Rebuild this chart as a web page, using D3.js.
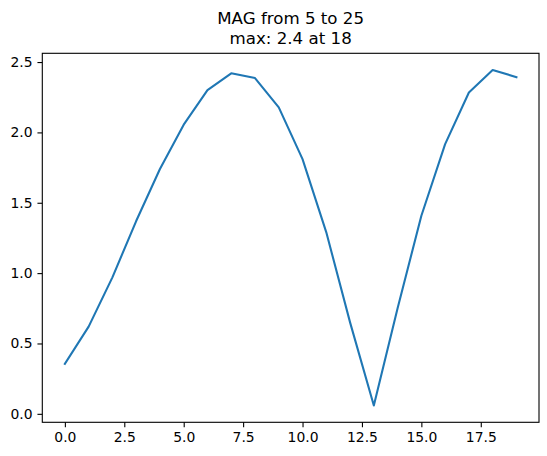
<!DOCTYPE html>
<html lang="en">

<head>
    <meta charset="UTF-8">
    <title>MAG from 5 to 25</title>
    <script src="https://d3js.org/d3.v7.min.js"></script>
    <style>
        body { margin: 0; background: #fff; }
        text { font-family: "DejaVu Sans", sans-serif; fill: #000; }
    </style>
</head>

<body>
    <div id="chart"></div>
    <script>
        // values, one per index
        var xValues = [0, 1, 2, 3, 4, 5, 6, 7, 8, 9, 10, 11, 12, 13, 14, 15, 16, 17, 18, 19];
        var magValues = [0.355, 0.62, 0.97, 1.37, 1.74, 2.055, 2.30, 2.42, 2.386, 2.178,
            1.81, 1.29, 0.65, 0.059, 0.75, 1.408, 1.917, 2.284, 2.443, 2.393];
        var xTicks = [0, 2.5, 5, 7.5, 10, 12.5, 15, 17.5];
        var yTicks = [0, 0.5, 1, 1.5, 2, 2.5];
        var titleLines = ["MAG from 5 to 25", "max: 2.4 at 18"];

        var width = 547,
            height = 456,
            margin = { left: 42.3, right: 8, top: 53.3, bottom: 33.7 };

        var svg = d3.select("#chart").append("svg")
            .attr("width", width)
            .attr("height", height);

        // matplotlib style 5% margins
        var xMin = d3.min(xValues), xMax = d3.max(xValues);
        var yMin = d3.min(magValues), yMax = d3.max(magValues);
        var xPad = (xMax - xMin) * 0.05, yPad = (yMax - yMin) * 0.05;

        var x = d3.scaleLinear()
            .domain([xMin - xPad, xMax + xPad])
            .range([margin.left, width - margin.right]);

        var y = d3.scaleLinear()
            .domain([yMin - yPad, yMax + yPad])
            .range([height - margin.bottom, margin.top]);

        var tickLen = 4.86;

        var xAxis = svg.append("g")
            .attr("transform", "translate(0," + (height - margin.bottom) + ")")
            .call(d3.axisBottom(x).tickValues(xTicks).tickFormat(d3.format(".1f"))
                .tickSize(tickLen).tickPadding(4.86).tickSizeOuter(0));

        var yAxis = svg.append("g")
            .attr("transform", "translate(" + margin.left + ",0)")
            .call(d3.axisLeft(y).tickValues(yTicks).tickFormat(d3.format(".1f"))
                .tickSize(tickLen).tickPadding(4.86).tickSizeOuter(0));

        svg.selectAll(".tick line").attr("stroke", "#000").attr("stroke-width", 1.1);
        svg.selectAll(".tick text").style("font-size", "13.9px");
        svg.selectAll(".domain").remove();

        var line = d3.line()
            .x(function (d, i) { return x(xValues[i]); })
            .y(function (d) { return y(d); });

        svg.append("path")
            .datum(magValues)
            .attr("fill", "none")
            .attr("stroke", "#1f77b4")
            .attr("stroke-width", 2.08)
            .attr("stroke-linejoin", "round")
            .attr("stroke-linecap", "square")
            .attr("d", line);

        // axes frame
        svg.append("rect")
            .attr("x", margin.left)
            .attr("y", margin.top)
            .attr("width", width - margin.left - margin.right)
            .attr("height", height - margin.top - margin.bottom)
            .attr("fill", "none")
            .attr("stroke", "#000")
            .attr("stroke-width", 1.1);

        svg.append("text")
            .attr("text-anchor", "middle")
            .style("font-size", "16.67px")
            .selectAll("tspan")
            .data(titleLines)
            .enter().append("tspan")
            .attr("x", (margin.left + width - margin.right) / 2)
            .attr("y", function (d, i) { return 24 + i * 19.6; })
            .text(function (d) { return d; });
    </script>
</body>

</html>
